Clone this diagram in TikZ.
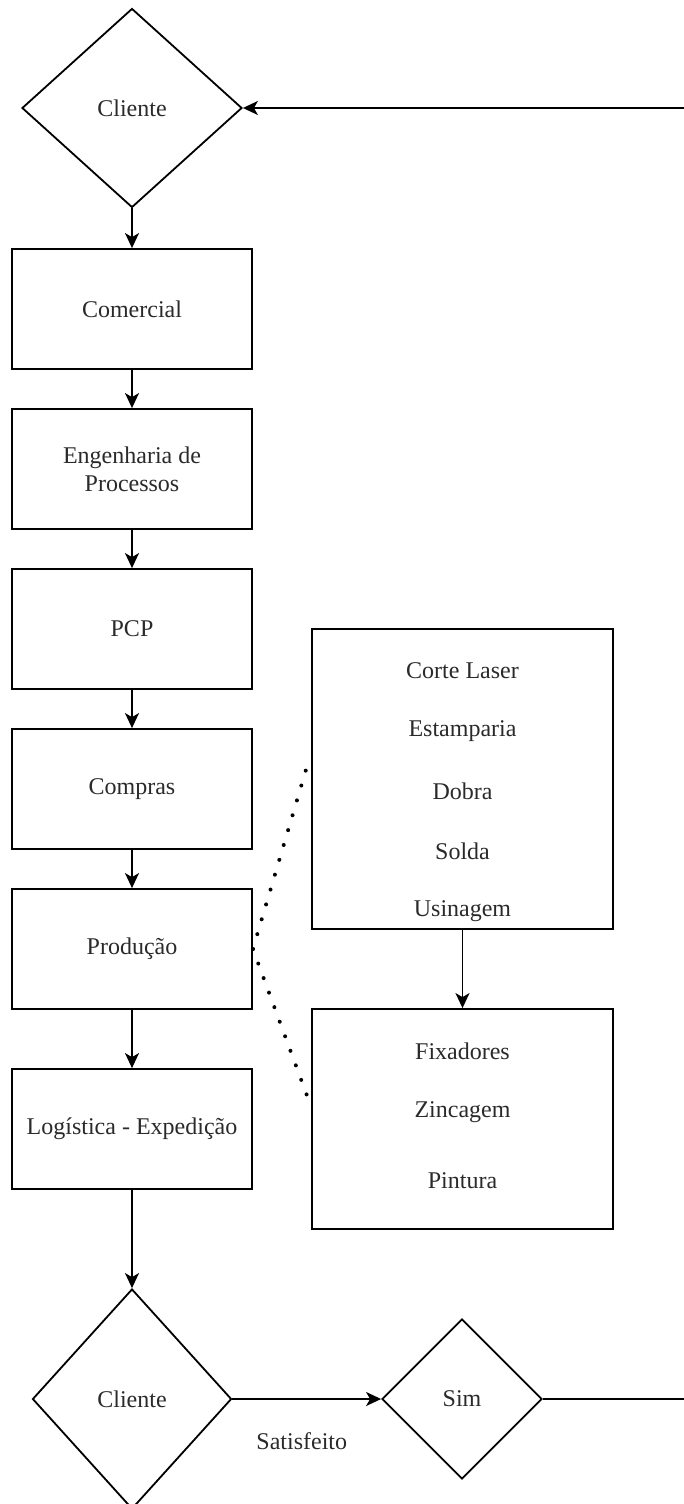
\documentclass[tikz,border=0pt]{standalone}
\usepackage{fontspec}
\setmainfont{Liberation Serif}
\usetikzlibrary{shapes.geometric,arrows.meta}
\definecolor{txt}{HTML}{2A2A2A}
\newcommand\lblfont{\fontsize{24pt}{28pt}\selectfont}
\begin{document}
\begin{tikzpicture}[x=1pt,y=-1pt,line width=1.8pt,
  >={Stealth[length=15pt,width=14pt,inset=4pt]},
  stagebox/.style={draw,rectangle,minimum width=240pt,minimum height=120pt,
    inner sep=0pt,align=center,font=\lblfont,text=txt},
  groupbox/.style={draw,rectangle,minimum width=301pt,inner sep=0pt},
  decision/.style={draw,diamond,inner sep=0pt,font=\lblfont,text=txt},
  item/.style={font=\lblfont,text=txt,inner sep=0pt},
  flow/.style={->},
  link/.style={line width=4pt,line cap=round,dash pattern=on 0pt off 15.5pt}]
\useasboundingbox (0,0) rectangle (684,1504);

% main process column
\node[decision,minimum width=220pt,minimum height=199pt] (cli1) at (132,108) {Cliente};
\node[stagebox] (com) at (132,309) {Comercial};
\node[stagebox] (eng) at (132,469) {Engenharia de\\Processos};
\node[stagebox] (pcp) at (132,629) {PCP};
\node[stagebox] (cmp) at (132,789) {Compras};
\node[stagebox] (prd) at (132,949) {Produção};
\node[stagebox] (log) at (132,1129) {Logística - Expedição};
\node[decision,minimum width=199pt,minimum height=220pt] (cli2) at (132,1399) {Cliente};
\node[decision,minimum width=160pt,minimum height=160pt] (sim) at (462,1399) {Sim};

% production sub-steps
\node[groupbox,minimum height=300pt] (grp1) at (462.5,779) {};
\node[item] (s1) at (462.5,671) {Corte Laser};
\node[item] (s2) at (462.5,731) {Estamparia};
\node[item] (s3) at (462.5,791) {Dobra};
\node[item] (s4) at (462.5,851) {Solda};
\node[item] (s5) at (462.5,911) {Usinagem};
\node[groupbox,minimum height=220pt] (grp2) at (462.5,1119) {};
\node[item] (f1) at (462.5,1051) {Fixadores};
\node[item] (f2) at (462.5,1112) {Zincagem};
\node[item] (f3) at (462.5,1181) {Pintura};

% free ends of the feedback loop and of the dotted links
\coordinate (loopin) at (684,108);
\coordinate (loopout) at (684,1399);
\coordinate (d1) at (308,763);
\coordinate (d2) at (309,1101);

% connectors
\draw[flow] (loopin) -- (cli1.east);
\draw[flow] (cli1.south) -- (com.north);
\draw[flow] (com) -- (eng);
\draw[flow] (eng) -- (pcp);
\draw[flow] (pcp) -- (cmp);
\draw[flow] (cmp) -- (prd);
\draw[flow] (prd) -- (log);
\draw[flow] (log.south) -- (cli2.north);
\draw[flow] (cli2.east) -- node[item,midway,xshift=-5pt,yshift=-42pt]{Satisfeito} (sim.west);
\draw (sim.east) -- (loopout);
\draw[flow] (grp1.south) -- (grp2.north);

% dotted links from Produção to its sub-steps
\draw[link] (prd.east) -- (d1);
\draw[link] (prd.east) -- (d2);
\end{tikzpicture}
\end{document}
